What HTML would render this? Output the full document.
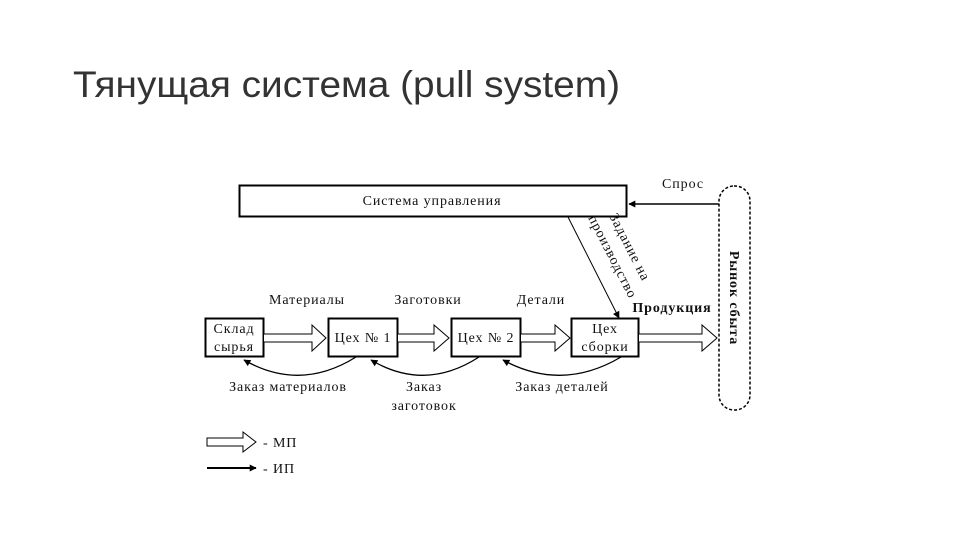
<!DOCTYPE html>
<html><head><meta charset="utf-8"><style>
html,body{margin:0;padding:0;background:#fff;width:960px;height:540px;overflow:hidden}
svg{display:block}
.t{font-family:"Liberation Serif","DejaVu Serif",serif;font-size:14px;letter-spacing:0.9px;fill:#111}
</style></head><body>
<svg width="960" height="540" viewBox="0 0 960 540" xmlns="http://www.w3.org/2000/svg">
<defs>
<marker id="ah" viewBox="0 0 10 10" refX="9" refY="5" markerWidth="9" markerHeight="7" orient="auto" markerUnits="userSpaceOnUse"><path d="M0,0 L10,5 L0,10 z" fill="#000"/></marker>
</defs>
<text x="73" y="97" font-family="Liberation Sans, DejaVu Sans, sans-serif" font-size="37" fill="#333" textLength="547" lengthAdjust="spacingAndGlyphs">Тянущая система (pull system)</text>

<rect x="239.5" y="185.5" width="387" height="31" fill="#fff" stroke="#000" stroke-width="2"/>
<text class="t" x="432" y="205" text-anchor="middle">Система управления</text>

<rect x="719" y="186" width="31" height="224" rx="15" fill="none" stroke="#000" stroke-width="1.5" stroke-dasharray="3,2"/>
<text class="t" transform="translate(730,298) rotate(90)" text-anchor="middle" font-weight="bold">Рынок сбыта</text>

<line x1="719" y1="204" x2="629" y2="204" stroke="#000" stroke-width="1.5" marker-end="url(#ah)"/>
<text class="t" x="683" y="188" text-anchor="middle">Спрос</text>

<line x1="568" y1="217" x2="619" y2="318" stroke="#000" stroke-width="1" marker-end="url(#ah)"/>
<text class="t" transform="translate(609,216) rotate(63)">Задание на</text>
<text class="t" transform="translate(588,218) rotate(63)">производство</text>

<rect x="205.5" y="318.5" width="58" height="38" fill="#fff" stroke="#000" stroke-width="2"/>
<text class="t" x="234" y="333" text-anchor="middle">Склад</text>
<text class="t" x="234" y="351" text-anchor="middle">сырья</text>
<rect x="328.5" y="318.5" width="69" height="38" fill="#fff" stroke="#000" stroke-width="2"/>
<text class="t" x="363" y="342" text-anchor="middle">Цех № 1</text>
<rect x="451.5" y="318.5" width="69" height="38" fill="#fff" stroke="#000" stroke-width="2"/>
<text class="t" x="486" y="342" text-anchor="middle">Цех № 2</text>
<rect x="571.5" y="318.5" width="67" height="38" fill="#fff" stroke="#000" stroke-width="2"/>
<text class="t" x="605" y="333" text-anchor="middle">Цех</text>
<text class="t" x="605" y="351" text-anchor="middle">сборки</text>

<g fill="#fff" stroke="#000" stroke-width="1">
<path d="M264,334 H312 V325 L326,338 L312,351 V342 H264"/>
<path d="M398,334 H434 V325 L449,338 L434,351 V342 H398"/>
<path d="M521,334 H555 V325 L570,338 L555,351 V342 H521"/>
<path d="M639,334 H702 V325 L717,338 L702,351 V342 H639"/>
</g>

<text class="t" x="307" y="304" text-anchor="middle">Материалы</text>
<text class="t" x="428" y="304" text-anchor="middle">Заготовки</text>
<text class="t" x="541" y="304" text-anchor="middle">Детали</text>
<text class="t" x="672" y="312" text-anchor="middle" font-weight="bold">Продукция</text>

<g fill="none" stroke="#000" stroke-width="1.3">
<path d="M356,357 Q300,392 244,360" marker-end="url(#ah)"/>
<path d="M479,357 Q425,392 371,360" marker-end="url(#ah)"/>
<path d="M621,357 Q562,392 503,360" marker-end="url(#ah)"/>
</g>
<text class="t" x="288" y="391" text-anchor="middle">Заказ материалов</text>
<text class="t" x="424" y="391" text-anchor="middle">Заказ</text>
<text class="t" x="424" y="410" text-anchor="middle">заготовок</text>
<text class="t" x="562" y="391" text-anchor="middle">Заказ деталей</text>

<path d="M207,438 H243 V432 L256,442 L243,452 V446 H207 Z" fill="#fff" stroke="#000" stroke-width="1"/>
<text class="t" x="263" y="447">- МП</text>
<line x1="207" y1="468" x2="256" y2="468" stroke="#000" stroke-width="2" marker-end="url(#ah)"/>
<text class="t" x="263" y="473">- ИП</text>
</svg>
</body></html>
